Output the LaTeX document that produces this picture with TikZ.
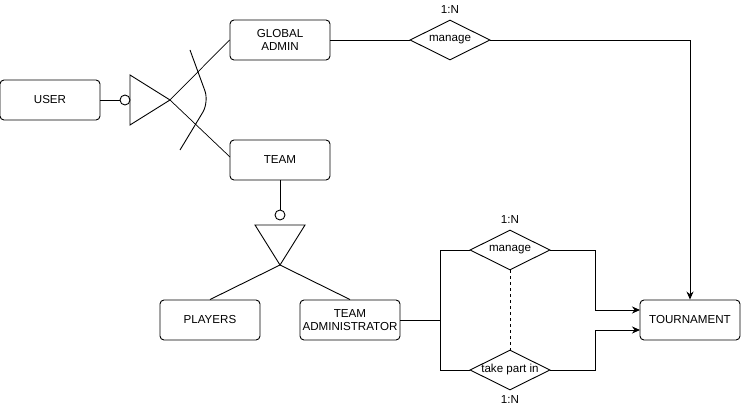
\documentclass[tikz,border=0pt]{standalone}
\usepackage{fontspec}
\setmainfont{Liberation Sans}
\usetikzlibrary{shapes.geometric,arrows.meta}
\begin{document}
\begin{tikzpicture}[x=1pt,y=-1pt,line width=0.9pt,
  ent/.style={draw,rounded corners=4pt,minimum width=100pt,minimum height=40pt,align=center,font=\fontsize{11.6}{13.5}\selectfont,inner sep=0pt},
  rel/.style={draw,diamond,aspect=2,minimum width=80pt,minimum height=40pt,inner sep=0pt,font=\fontsize{11.6}{13.5}\selectfont},
  lbl/.style={font=\fontsize{11.6}{13.5}\selectfont,inner sep=0pt},
  arr/.style={-{Stealth[length=8pt,width=7pt]}}]
\useasboundingbox (0,0) rectangle (741,411);
\node[ent] (user) at (50,100) {USER};
\node[ent] (ga) at (280,40) {GLOBAL\\ADMIN};
\node[ent] (team) at (280,160) {TEAM};
\node[ent] (players) at (210,320) {PLAYERS};
\node[ent] (tadm) at (350,320) {TEAM\\ADMINISTRATOR};
\node[ent] (tour) at (690,320) {TOURNAMENT};
\node[rel] (m1) at (450,40) {manage};
\node[rel] (m2) at (510,250) {manage};
\node[rel] (tp) at (510,370) {take part in};
\node[lbl] (n1) at (450,10) {1:N};
\node[lbl] (n2) at (510,220) {1:N};
\node[lbl] (n3) at (510,400) {1:N};
% ISA 1
\node[draw,circle,minimum size=10pt,inner sep=0pt] (c1) at (125,100) {};
\coordinate (t1a) at (130,75);
\coordinate (t1b) at (130,125);
\coordinate (t1c) at (170,100);
\draw (t1a) -- (t1c) -- (t1b) -- cycle;
\draw (user.east) -- (c1.west);
\draw[line width=0.7pt] (t1c) -- (ga.west);
\draw[line width=0.7pt] (t1c) -- (230,157);
\draw[rounded corners=12pt] (190,50) -- (209,102) -- (180,150);
% ISA 2
\node[draw,circle,minimum size=10pt,inner sep=0pt] (c2) at (280,215) {};
\coordinate (t2a) at (255,225);
\coordinate (t2b) at (305,225);
\coordinate (t2c) at (280,265);
\draw (t2a) -- (t2b) -- (t2c) -- cycle;
\draw (team.south) -- (c2.north);
\draw (t2c) -- (players.north);
\draw (t2c) -- (tadm.north);
% relations
\draw (ga.east) -- (m1.west);
\draw[arr] (m1.east) -| (tour.north);
\draw (tadm.east) -- (440,320) |- (m2.west);
\draw (440,320) |- (tp.west);
\draw[arr] (m2.east) -- (595,250) |- (640,310);
\draw[arr] (tp.east) -- (595,370) |- (640,330);
\draw[dashed,dash pattern=on 3pt off 3pt] (m2.south) -- (tp.north);
\end{tikzpicture}
\end{document}
